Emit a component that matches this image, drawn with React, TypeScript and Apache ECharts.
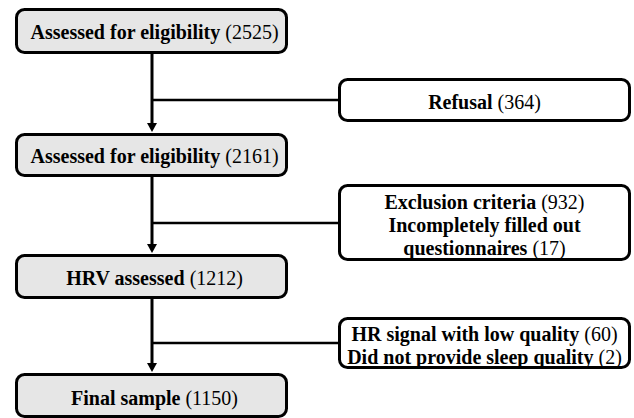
import React, { useEffect, useRef } from "react";
import * as echarts from "echarts";

// Main flow (left column)
const mainLabels = ["Assessed for eligibility", "Assessed for eligibility", "HRV assessed", "Final sample"];
const mainCounts = [2525, 2161, 1212, 1150];

// Exclusions (right column), each box may hold several reasons
const exclusionLabels = [
  ["Refusal"],
  ["Exclusion criteria", "Incompletely filled out\nquestionnaires"],
  ["HR signal with low quality", "Did not provide sleep quality"],
];
const exclusionCounts = [[364], [932, 17], [60, 2]];

const FONT = "Liberation Serif";
const FS = 20;

// Layout (pixel geometry of the diagram)
const leftBox = { x0: 15, x1: 288 };
const mainY = [
  [8, 54],
  [133, 177],
  [254, 299],
  [373, 418],
];
const rightBox = { x0: 338, x1: 631 };
const exclY = [
  [78, 122],
  [184, 261],
  [317, 369],
];
const connectorY = [100, 223, 343];
const spineX = 152;

function richLine(label: string, n: number) {
  const parts = label.split("\n");
  const last = parts.pop() as string;
  const pre = parts.map((p) => `{b|${p}}`).join("\n");
  return (pre ? pre + "\n" : "") + `{b|${last}} {n|(${n})}`;
}

function App() {
  const ref = useRef<HTMLDivElement>(null);
  useEffect(() => {
    if (!ref.current) return;
    const chart = echarts.init(ref.current, null, { renderer: "svg" });
    const lw = 3;
    const elements: any[] = [];
    const rich = {
      b: { fontFamily: FONT, fontSize: FS, fontWeight: "bold", fill: "#000", lineHeight: 23 },
      n: { fontFamily: FONT, fontSize: FS, fontWeight: "normal", fill: "#000", lineHeight: 23 },
    };

    // Spine segments with arrows
    for (let i = 0; i < mainY.length - 1; i++) {
      const y0 = mainY[i][1];
      const y1 = mainY[i + 1][0];
      elements.push({
        type: "line",
        shape: { x1: spineX, y1: y0, x2: spineX, y2: y1 - 8 },
        style: { stroke: "#000", lineWidth: 3 },
      });
      elements.push({
        type: "polygon",
        shape: { points: [[spineX - 5, y1 - 10], [spineX + 5, y1 - 10], [spineX, y1 - 1]] },
        style: { fill: "#000" },
      });
    }
    // Connectors
    connectorY.forEach((y) => {
      elements.push({
        type: "line",
        shape: { x1: spineX, y1: y, x2: rightBox.x0 + 1, y2: y },
        style: { stroke: "#000", lineWidth: 2.5 },
      });
    });

    // Main boxes
    mainLabels.forEach((lab, i) => {
      const [t, b] = mainY[i];
      elements.push({
        type: "rect",
        shape: { x: leftBox.x0 + lw / 2, y: t + lw / 2, width: leftBox.x1 - leftBox.x0 - lw, height: b - t - lw, r: 8 },
        style: { fill: "#e6e6e6", stroke: "#000", lineWidth: lw },
      });
      elements.push({
        type: "text",
        x: (leftBox.x0 + leftBox.x1) / 2 + 3,
        y: (t + b) / 2 + (i === 3 ? 2 : 1),
        style: {
          text: richLine(lab, mainCounts[i]),
          fontFamily: FONT,
          fontSize: FS,
          rich,
          align: "center",
          verticalAlign: "middle",
        },
      });
    });

    // Exclusion boxes
    exclusionLabels.forEach((labs, i) => {
      const [t, b] = exclY[i];
      elements.push({
        type: "rect",
        shape: { x: rightBox.x0 + lw / 2, y: t + lw / 2, width: rightBox.x1 - rightBox.x0 - lw, height: b - t - lw, r: 8 },
        style: { fill: "#fff", stroke: "#000", lineWidth: lw },
      });
      const text = labs.map((l, j) => richLine(l, exclusionCounts[i][j])).join("\n");
      elements.push({
        type: "text",
        x: (rightBox.x0 + rightBox.x1) / 2,
        y: (t + b) / 2 + 2,
        style: {
          text,
          fontFamily: FONT,
          fontSize: FS,
          rich,
          align: "center",
          verticalAlign: "middle",
        },
      });
    });

    chart.setOption({
      animation: false,
      backgroundColor: "#fff",
      graphic: { elements },
    });
    return () => chart.dispose();
  }, []);
  return <div ref={ref} style={{ width: 634, height: 418, position: "fixed", left: 0, top: 0 }} />;
}

export default App;
